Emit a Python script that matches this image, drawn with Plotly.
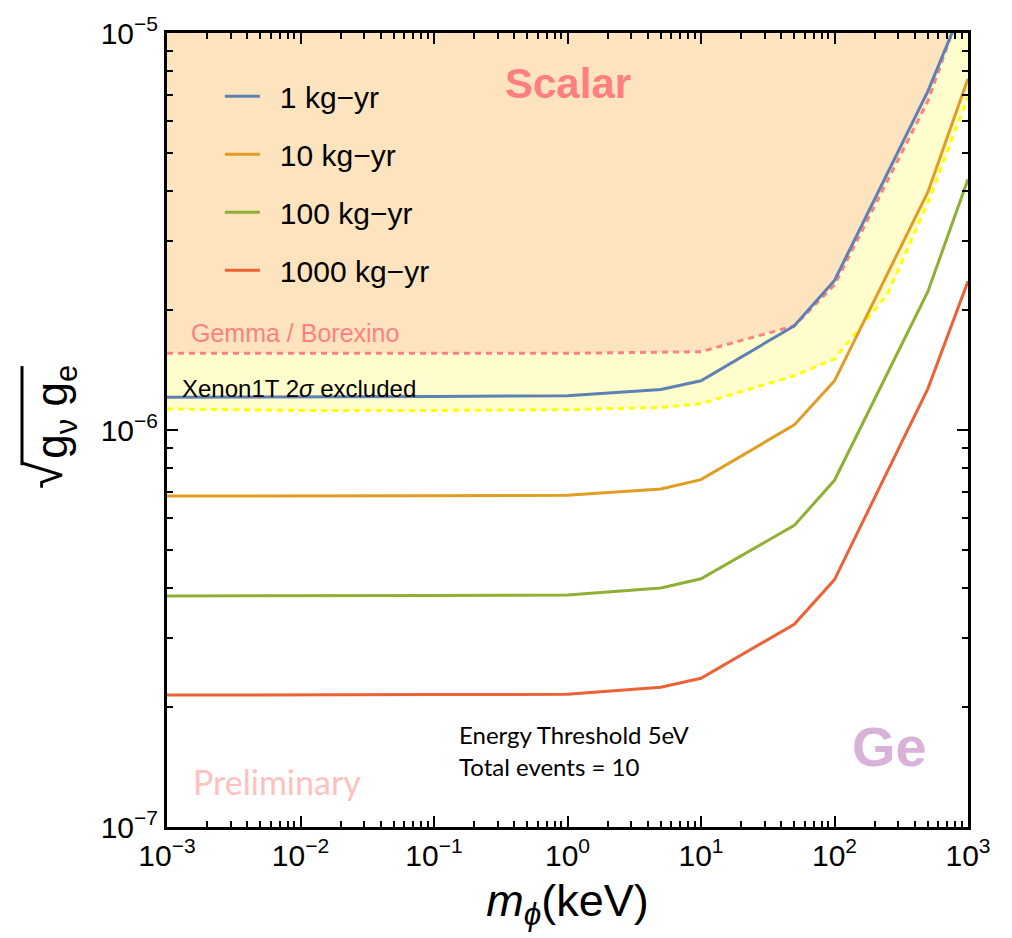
import plotly.graph_objects as go

# Mediator mass grid (keV)
m_phi = [1e-3, 1e-2, 1e-1, 1.0, 5.0, 10.0, 50.0, 100.0, 500.0, 1000.0]

# Projected sensitivities on sqrt(g_nu g_e) for each exposure
sens_1 = [1.21e-6, 1.21e-6, 1.215e-6, 1.22e-6, 1.265e-6, 1.33e-6, 1.83e-6, 2.38e-6, 7.13e-6, 1.25e-5]
sens_10 = [6.82e-7, 6.82e-7, 6.83e-7, 6.85e-7, 7.1e-7, 7.5e-7, 1.03e-6, 1.33e-6, 3.97e-6, 7.67e-6]
sens_100 = [3.82e-7, 3.82e-7, 3.83e-7, 3.84e-7, 4.0e-7, 4.22e-7, 5.75e-7, 7.47e-7, 2.23e-6, 4.28e-6]
sens_1000 = [2.15e-7, 2.15e-7, 2.155e-7, 2.16e-7, 2.25e-7, 2.37e-7, 3.24e-7, 4.2e-7, 1.27e-6, 2.37e-6]
exposure_labels = ["1 kg\u2212yr", "10 kg\u2212yr", "100 kg\u2212yr", "1000 kg\u2212yr"]

# Existing limits
gemma_m = [1e-3, 1e-2, 1e-1, 1.0, 10.0, 50.0, 100.0, 500.0, 1000.0]
gemma_g = [1.56e-6, 1.56e-6, 1.56e-6, 1.56e-6, 1.575e-6, 1.83e-6, 2.32e-6, 6.73e-6, 1.3e-5]
xenon_m = [1e-3, 1e-2, 1e-1, 1.0, 5.0, 10.0, 50.0, 100.0, 250.0, 500.0, 1000.0]
xenon_g = [1.13e-6, 1.12e-6, 1.12e-6, 1.125e-6, 1.14e-6, 1.165e-6, 1.37e-6, 1.51e-6, 2.2e-6, 3.74e-6, 6.9e-6]

X_RANGE = [-3, 3]
Y_RANGE = [-7, -5]
x_ticks = [1e-3, 1e-2, 1e-1, 1, 10, 100, 1000]
x_ticktext = ["10<sup>\u22123</sup>", "10<sup>\u22122</sup>", "10<sup>\u22121</sup>", "10<sup>0</sup>",
              "10<sup>1</sup>", "10<sup>2</sup>", "10<sup>3</sup>"]
y_ticks = [1e-7, 1e-6, 1e-5]
y_ticktext = ["10<sup>\u22127</sup>", "10<sup>\u22126</sup>", "10<sup>\u22125</sup>"]

colors = ["#5E81B5", "#E19C24", "#8FB032", "#EB6235"]
PEACH = "#FDE4BE"
PALE_YELLOW = "#FFFDCC"
PINK = "#FF8080"
YELLOW = "#FFFF00"
FONT = "Liberation Sans, Arial, sans-serif"
SOFT_FONT = "Lato, Carlito, sans-serif"

fig = go.Figure()

# Excluded regions: peach above Gemma/Borexino, pale yellow between it and Xenon1T
y_ceiling = 10 ** (Y_RANGE[1] + 0.5)
fig.add_trace(go.Scatter(x=gemma_m, y=[y_ceiling] * len(gemma_m), mode="lines",
                         line=dict(width=0), showlegend=False, hoverinfo="skip"))
fig.add_trace(go.Scatter(x=gemma_m, y=gemma_g, mode="lines", line=dict(width=0),
                         fill="tonexty", fillcolor=PEACH, showlegend=False, hoverinfo="skip"))
fig.add_trace(go.Scatter(x=xenon_m, y=xenon_g, mode="lines", line=dict(width=0),
                         fill="tonexty", fillcolor=PALE_YELLOW, showlegend=False, hoverinfo="skip"))

# Limit boundaries
fig.add_trace(go.Scatter(x=gemma_m, y=gemma_g, mode="lines", showlegend=False,
                         line=dict(color=PINK, width=3, dash="6px,5px")))
fig.add_trace(go.Scatter(x=xenon_m, y=xenon_g, mode="lines", showlegend=False,
                         line=dict(color=YELLOW, width=3, dash="6px,5px")))

# Sensitivity curves (legend labels get a small lead-in gap after the line sample)
for i, (ys, name) in enumerate(zip([sens_1, sens_10, sens_100, sens_1000], exposure_labels)):
    fig.add_trace(go.Scatter(x=m_phi, y=ys, mode="lines", name="\u2002" + name, legendgroup=name,
                             line=dict(color=colors[i], width=3)))

axis_common = dict(
    type="log", showgrid=False, zeroline=False,
    showline=True, linecolor="black", linewidth=3, mirror="allticks",
    ticks="inside", ticklen=11, tickwidth=2, tickcolor="black",
    tickfont=dict(family=FONT, size=30, color="black"),
    minor=dict(ticks="inside", ticklen=6, tickwidth=1.5, tickcolor="black", dtick="D1", showgrid=False),
)

fig.update_xaxes(range=X_RANGE, tickmode="array", tickvals=x_ticks, ticktext=x_ticktext,
                 title=dict(text="<i>m<sub>\u03d5</sub></i>(keV)", font=dict(family=FONT, size=45, color="black"),
                            standoff=14),
                 **axis_common)
fig.update_yaxes(range=Y_RANGE, tickmode="array", tickvals=y_ticks, ticktext=y_ticktext, **axis_common)

def px_to_paper(px, py):
    return (px - 167) / 801, (827 - py) / 801

annotations = []
def add_text(text, px, py, size, color, family=FONT, xanchor="center", bold=False, angle=0):
    x, y = px_to_paper(px, py)
    annotations.append(dict(text=f"<b>{text}</b>" if bold else text, x=x, y=y, xref="paper", yref="paper",
                            xanchor=xanchor, yanchor="middle", showarrow=False, textangle=angle,
                            font=dict(family=family, size=size, color=color)))

add_text("Scalar", 568, 77, 42, "#FF7F7F", bold=True)
add_text("Gemma / Borexino", 189, 329, 25, PINK, xanchor="left")
add_text("Xenon1T 2<i>\u03c3</i> excluded", 180, 385, 24, "black", xanchor="left")
add_text("Energy Threshold 5eV", 457, 734, 24, "black", family=SOFT_FONT, xanchor="left")
add_text("Total events = 10", 457, 766, 24, "black", family=SOFT_FONT, xanchor="left")
add_text("Ge", 889, 746, 56, "#D8B2D8", bold=True)
add_text("Preliminary", 191, 781, 34, "#FFC0C0", family=SOFT_FONT, xanchor="left")
# y-axis title: radical sign with the vinculum drawn as a shape
add_text("\u221a", 45, 472, 50, "black", angle=-90)
add_text("g<sub>\u03bd</sub> g<sub>e</sub>", 55, 408, 44, "black", angle=-90)

vx, vy0 = px_to_paper(22, 362)
_, vy1 = px_to_paper(22, 462)
fig.add_shape(type="line", xref="paper", yref="paper", x0=vx, x1=vx, y0=vy0, y1=vy1,
              line=dict(color="black", width=3))

fig.update_layout(
    width=1012, height=938,
    margin=dict(l=167, r=44, t=26, b=111),
    paper_bgcolor="white", plot_bgcolor="white",
    annotations=annotations,
    showlegend=True,
    legend=dict(x=0.066, y=0.953, xanchor="left", yanchor="top", bgcolor="rgba(0,0,0,0)",
                font=dict(family=FONT, size=30, color="black"), tracegroupgap=16, itemwidth=35),
)

fig.write_html("out.html")
